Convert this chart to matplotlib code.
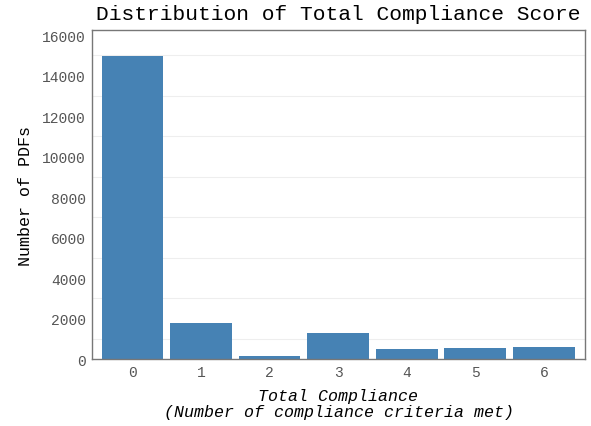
import matplotlib
matplotlib.use("Agg")
import matplotlib.pyplot as plt
from matplotlib.ticker import MultipleLocator

categories = ["0", "1", "2", "3", "4", "5", "6"]
counts = [14980, 1780, 130, 1270, 495, 545, 595]
yticks = [0, 2000, 4000, 6000, 8000, 10000, 12000, 14000, 16000]

plt.rcParams['font.family'] = ['Liberation Mono', 'DejaVu Sans Mono']

fig = plt.figure(figsize=(5.91, 4.27), dpi=100)
ax = fig.add_axes([92/591, 1 - 360/427, (585-92)/591, (360-31)/427])

x = list(range(len(categories)))
ax.bar(x, counts, width=0.9, color='#4682b4', zorder=2)
ax.set_xlim(-0.59, 6.6)
ax.set_ylim(0, 16250)
ax.set_xticks(x)
ax.set_xticklabels(categories)
ax.set_yticks(yticks)
ax.yaxis.set_minor_locator(MultipleLocator(1000))
ax.grid(which='minor', axis='y', color='#eeeeee', linewidth=0.8, zorder=0)
ax.grid(which='major', visible=False)
ax.tick_params(which='minor', length=0)
ax.tick_params(axis='both', which='major', length=0, pad=4.5, labelcolor='#555555', labelsize=10.5)
for s in ax.spines.values():
    s.set_color('#777777')
    s.set_linewidth(1.0)

ax.set_xlabel("Total Compliance\n(Number of compliance criteria met)", fontsize=12, style='italic', labelpad=6, linespacing=1.15)
ax.set_ylabel("Number of PDFs", fontsize=12, labelpad=6.5)
fig.text(338/591, 1 - 14/427, "Distribution of Total Compliance Score", ha='center', va='center', fontsize=15.3)

fig.savefig("out.png", dpi=100)
